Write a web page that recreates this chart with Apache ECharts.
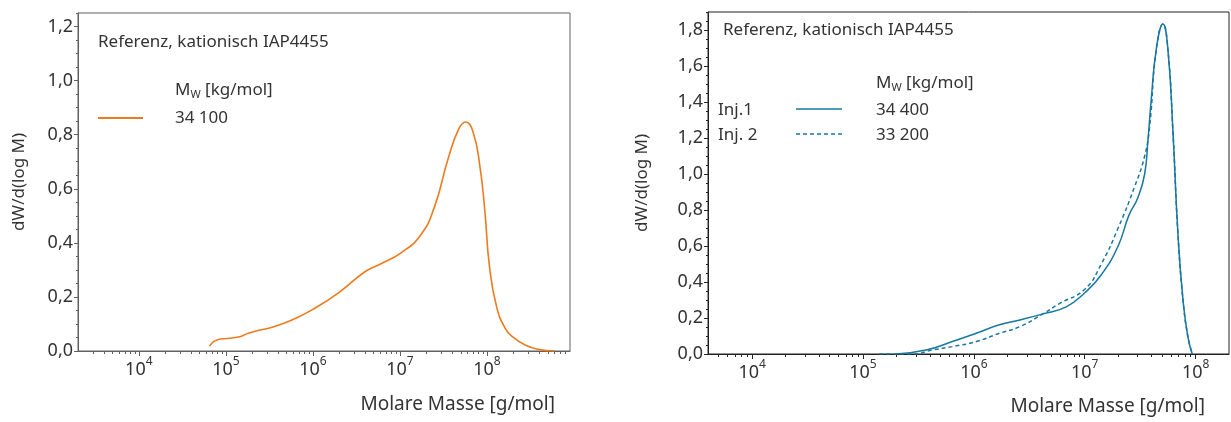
<!DOCTYPE html>
<html>
<head>
<meta charset="utf-8">
<script src="https://cdn.jsdelivr.net/npm/echarts@6/dist/echarts.min.js"></script>
<style>
html,body{margin:0;padding:0;background:#fff;}
#chart{width:1231px;height:422px;}
</style>
</head>
<body>
<div id="chart"></div>
<script>
// ---- data (molar mass in g/mol, dW/d(log M)) ----
const leftMolarMass = [6.5e4, 7.9e4, 1.12e5, 1.48e5, 1.78e5, 2.5e5, 3.1e5, 5.75e5, 1.05e6, 1.95e6, 4.0e6, 6.0e6, 1.02e7, 1.74e7, 2.5e7, 3.55e7, 4.7e7, 5.7e7, 6.9e7, 8.3e7, 9.5e7, 1.07e8, 1.29e8, 1.62e8, 2.0e8, 2.75e8, 3.9e8, 6.0e8];
const leftValues    = [0.018, 0.041, 0.047, 0.054, 0.065, 0.078, 0.084, 0.115, 0.158, 0.214, 0.294, 0.322, 0.362, 0.430, 0.534, 0.707, 0.819, 0.847, 0.812, 0.683, 0.510, 0.312, 0.164, 0.084, 0.051, 0.022, 0.006, 0.0];

const inj1MolarMass = [2.0e5, 3.7e5, 6.4e5, 1.05e6, 1.7e6, 2.6e6, 4.2e6, 6.8e6, 1.0e7, 1.41e7, 2.0e7, 2.5e7, 3.02e7, 3.47e7, 3.72e7, 3.98e7, 4.42e7, 5.07e7, 5.62e7, 6.25e7, 6.92e7, 7.69e7, 8.51e7, 9.33e7];
const inj1Values    = [0, 0.022, 0.069, 0.115, 0.162, 0.189, 0.223, 0.262, 0.34, 0.44, 0.60, 0.77, 0.87, 1.0, 1.192, 1.415, 1.694, 1.833, 1.694, 1.23, 0.672, 0.301, 0.096, 0];

const inj2MolarMass = [1.4e5, 2.8e5, 4.2e5, 6.4e5, 1.05e6, 1.7e6, 2.6e6, 4.2e6, 5.9e6, 1.0e7, 1.41e7, 2.0e7, 2.82e7, 3.47e7, 3.85e7, 4.42e7, 5.07e7, 5.62e7, 6.25e7, 6.92e7, 7.69e7, 8.51e7, 9.33e7];
const inj2Values    = [0, 0, 0.022, 0.041, 0.069, 0.115, 0.152, 0.223, 0.28, 0.36, 0.50, 0.70, 0.93, 1.10, 1.266, 1.694, 1.833, 1.694, 1.23, 0.672, 0.301, 0.096, 0];

const xTickExponents = [4, 5, 6, 7, 8];
const yTicksLeft  = [0, 0.2, 0.4, 0.6, 0.8, 1.0, 1.2];
const yTicksRight = [0, 0.2, 0.4, 0.6, 0.8, 1.0, 1.2, 1.4, 1.6, 1.8];

const titleText = 'Referenz, kationisch IAP4455';
const legendLeftLabels = ['34 100'];
const legendRightNames = ['Inj.1', 'Inj. 2'];
const legendRightLabels = ['34 400', '33 200'];
const xName = 'Molare Masse [g/mol]';
const yName = 'dW/d(log M)';

// ---- helpers ----
const FONT = '"Noto Sans", sans-serif';
const TXT = '#333333';
const ORANGE = '#ee7a1e';
const TEAL = '#16789e';

function toPairs(ms, vs){ return ms.map((m,i)=>[Math.log10(m), vs[i]]); }
function minorLog(lo, hi){
  const out=[];
  for(let n=2;n<=9;n++){ for(let k=2;k<=9;k++){ const v=Math.log10(k*Math.pow(10,n)); if(v>lo+1e-9 && v<hi-1e-9) out.push(v);} }
  return out;
}
function minorLin(majors, max){
  const out=[];
  for(let v=0; v<=max+1e-9; v+=0.05){ const r=Math.round(v*100)/100; if(!majors.some(m=>Math.abs(m-r)<1e-6)) out.push(r); }
  return out;
}
const commaFmt = v => v.toFixed(1).replace('.', ',');
const supRich = {
  b:{fontSize:18, fontFamily:FONT, color:TXT, lineHeight:22, padding:[6,0,0,0]},
  s:{fontSize:12, fontFamily:FONT, color:TXT, lineHeight:14, verticalAlign:'top'}
};

const L = {min:Math.log10(2000), max:Math.log10(9e8)};
const R = {min:Math.log10(4000), max:Math.log10(2e8)};

function xMajor(grid, rng, color){
  return {type:'value', gridIndex:grid, position:'bottom', min:rng.min, max:rng.max,
    axisLine:{show:true, onZero:false, lineStyle:{color:color, width:1}},
    axisTick:{show:true, length:5, customValues:xTickExponents, lineStyle:{color:color}},
    axisLabel:{show:true, margin:5, customValues:xTickExponents, formatter:v=>'{b|10}{s|'+Math.round(v)+'}', rich:supRich},
    splitLine:{show:false}};
}
function xMinor(grid, rng, color){
  return {type:'value', gridIndex:grid, position:'bottom', min:rng.min, max:rng.max,
    axisLine:{show:false}, axisLabel:{show:false}, splitLine:{show:false},
    axisTick:{show:true, length:3, customValues:minorLog(rng.min, rng.max), lineStyle:{color:color}}};
}
function yMajor(grid, max, ticks, color, gap){
  return {type:'value', gridIndex:grid, position:'left', min:0, max:max,
    name:yName, nameLocation:'middle', nameGap:gap,
    nameTextStyle:{fontSize:17, fontFamily:FONT, color:TXT},
    axisLine:{show:true, lineStyle:{color:color, width:1}},
    axisTick:{show:true, length:4, customValues:ticks, lineStyle:{color:color}},
    axisLabel:{show:true, margin:5, customValues:ticks, formatter:commaFmt, fontSize:18, fontFamily:FONT, color:TXT},
    splitLine:{show:false}};
}
function yMinor(grid, max, ticks, color){
  return {type:'value', gridIndex:grid, position:'left', min:0, max:max,
    axisLine:{show:false}, axisLabel:{show:false}, splitLine:{show:false},
    axisTick:{show:true, length:2, customValues:minorLin(ticks, max), lineStyle:{color:color}}};
}

const GL = '#606060', GR = '#222222';

const chart = echarts.init(document.getElementById('chart'), null, {renderer:'canvas'});
const txt = (x,y,text,extra)=>Object.assign({type:'text', x:x, y:y, silent:true,
  style:Object.assign({text:text, fill:TXT, font:'17px '+FONT, textVerticalAlign:'middle'}, extra||{})});
const mwRich = (x,y)=>({type:'text', x:x, y:y, silent:true, style:{
  text:'{a|M}{w|W}{a| [kg/mol]}', verticalAlign:'middle',
  rich:{a:{fontSize:17, fontFamily:FONT, fill:TXT, color:TXT, lineHeight:22},
        w:{fontSize:11, fontFamily:FONT, fill:TXT, color:TXT, lineHeight:22, padding:[10,0,0,0]}}}});

const lineSeries = (xi, yi, pairs, style) => ({type:'line', xAxisIndex:xi, yAxisIndex:yi, data:pairs,
  smooth:0.5, symbol:'none', lineStyle:style});

chart.setOption({
  animation:false,
  backgroundColor:'#ffffff',
  grid:[
    {left:78, top:13, width:492, height:338, show:true, borderColor:GL, borderWidth:1, backgroundColor:'transparent'},
    {left:708, top:12, width:521, height:342, show:true, borderColor:GR, borderWidth:1, backgroundColor:'transparent'}
  ],
  xAxis:[xMajor(0,L,GL), xMinor(0,L,GL), xMajor(1,R,GR), xMinor(1,R,GR)],
  yAxis:[yMajor(0,1.25,yTicksLeft,GL,50), yMinor(0,1.25,yTicksLeft,GL), yMajor(1,1.9,yTicksRight,GR,57), yMinor(1,1.9,yTicksRight,GR)],
  series:[
    lineSeries(0,0,toPairs(leftMolarMass,leftValues),{color:ORANGE, width:1.6}),
    lineSeries(2,2,toPairs(inj2MolarMass,inj2Values),{color:TEAL, width:1.5, type:[4,3]}),
    lineSeries(2,2,toPairs(inj1MolarMass,inj1Values),{color:TEAL, width:1.5})
  ],
  graphic:[
    txt(98, 42, titleText),
    mwRich(175, 90),
    txt(175, 118, legendLeftLabels[0]),
    {type:'line', silent:true, shape:{x1:98,y1:118,x2:143,y2:118}, style:{stroke:ORANGE, lineWidth:2}},
    txt(555, 405, xName, {font:'19px '+FONT, textAlign:'right'}),

    txt(723, 30, titleText),
    mwRich(876, 83),
    txt(718, 110, legendRightNames[0]),
    {type:'line', silent:true, shape:{x1:796,y1:109,x2:842,y2:109}, style:{stroke:TEAL, lineWidth:1.5}},
    txt(876, 110, legendRightLabels[0]),
    txt(718, 135, legendRightNames[1]),
    {type:'line', silent:true, shape:{x1:796,y1:134,x2:842,y2:134}, style:{stroke:TEAL, lineWidth:1.5, lineDash:[4,3]}},
    txt(876, 135, legendRightLabels[1]),
    txt(1205, 407, xName, {font:'19px '+FONT, textAlign:'right'})
  ]
});
</script>
</body>
</html>
